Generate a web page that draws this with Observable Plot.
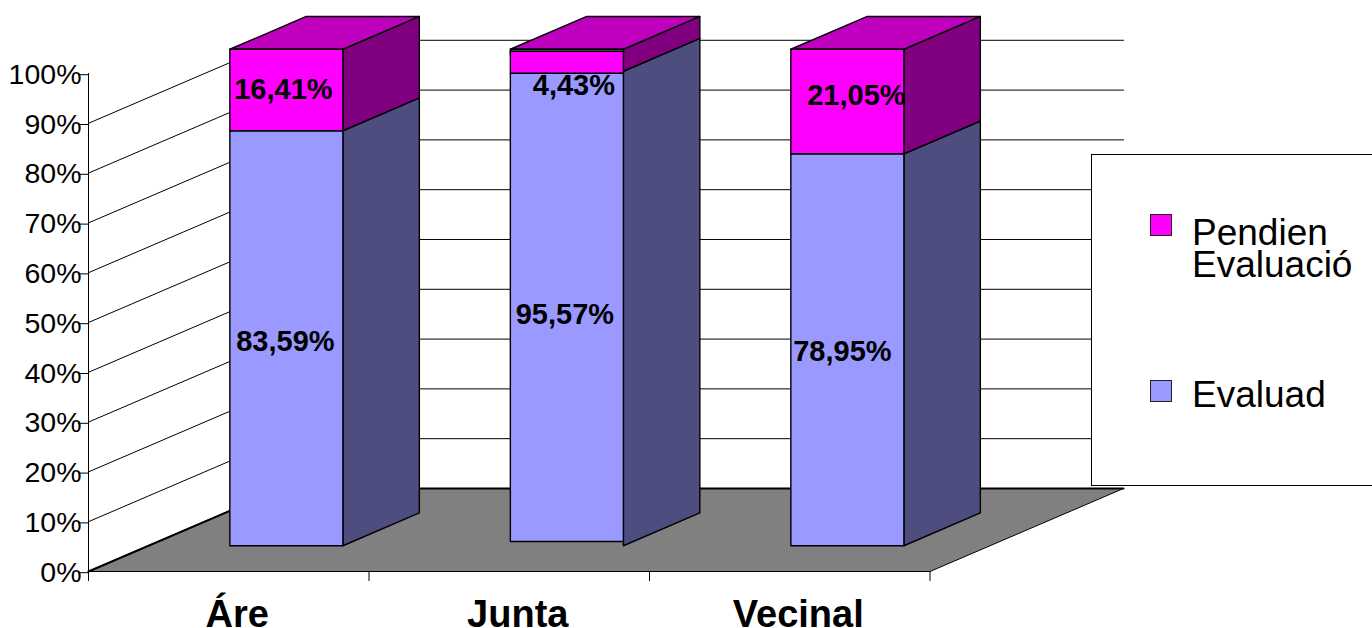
<!DOCTYPE html>
<html>
<head>
<meta charset="utf-8">
<script src="https://cdn.jsdelivr.net/npm/d3@7"></script>
<script src="https://cdn.jsdelivr.net/npm/@observablehq/plot@0.6"></script>
<style>
  html, body { margin: 0; padding: 0; background: #fff; overflow: hidden; }
  #chart { position: relative; width: 1372px; height: 628px; font-family: "Liberation Sans", Arial, sans-serif; }
  #chart svg { display: block; }
  #legend { position: absolute; left: 1091px; top: 154px; width: 290px; height: 332px; background: #fff; border: 1px solid #000; box-sizing: border-box; color: #000; font-size: 37px; }
  #legend .sw { position: absolute; left: 58px; width: 22px; height: 22px; border: 1px solid #222; box-sizing: border-box; }
  #legend .tx { position: absolute; left: 100px; line-height: 32px; white-space: nowrap; }
</style>
</head>
<body>
<div id="chart"></div>
<script>
// ---- data ----
const categories = ["Áre", "Junta", "Vecinal"];
const evaluado = [83.59, 95.57, 78.95];
const pendiente = [16.41, 4.43, 21.05];
const evaluadoLabels = ["83,59%", "95,57%", "78,95%"];
const pendienteLabels = ["16,41%", "4,43%", "21,05%"];
const yTicks = [0, 10, 20, 30, 40, 50, 60, 70, 80, 90, 100];
const gridValues = [10, 20, 30, 40, 50, 60, 70, 80, 90];
const seriesNames = ["Pendien\nEvaluació", "Evaluad"];

// ---- oblique projection, in scale units ----
const depthX = 0.69;     // categories per unit of depth
const depthY = 16.67;    // percent per unit of depth
const project = (c, v, d) => ({x: c + d * depthX, y: v + d * depthY});

const barGap = 0.29, barWidth = 0.403, barD0 = 0.31, barD1 = 0.705, barScale = 0.997;
// the middle column's front face sits slightly off its sides in the original
const frontLift = [0, 0.85, 0];
const frontDrop = [0, 0.4, 0];

const blue = "#9999ff", blueSide = "#4d4d80";
const pink = "#ff00ff", pinkSide = "#800080", pinkTop = "#bf00bf";
const floorGrey = "#808080";

const poly = (pts, fill, extra = {}) =>
  Plot.line(pts, {x: "x", y: "y", fill, stroke: "#000", strokeWidth: 1.4, curve: "linear-closed", ...extra});

const marks = [];

// floor
marks.push(poly([project(0, 0, 0), project(3, 0, 0), project(3, 0, 1), project(0, 0, 1)], floorGrey, {strokeWidth: 1}));
marks.push(Plot.line([project(0, 0, 0), project(0, 0, 1), project(3, 0, 1)], {x: "x", y: "y", stroke: "#000", strokeWidth: 2}));

// back-wall and side-wall lines
for (const v of gridValues) {
  marks.push(Plot.line([project(0, v, 0), project(0, v, 1), project(3, v, 1)], {x: "x", y: "y", stroke: "#000", strokeWidth: 1}));
}

// axes
marks.push(Plot.ruleX([0], {y1: -2, y2: 100, stroke: "#000", strokeWidth: 1}));
marks.push(Plot.ruleY([0], {x1: 0, x2: 3, stroke: "#000", strokeWidth: 1}));
marks.push(Plot.axisY({ticks: yTicks, label: null, tickSize: 10, tickPadding: -3, tickFormat: d => d + "%", fontSize: 28.5, stroke: "#000", color: "#000", dy: 1.2}));
marks.push(Plot.axisX({ticks: [0, 1, 2, 3], label: null, tickSize: 10, tickFormat: () => "", stroke: "#000"}));
marks.push(Plot.axisX({ticks: [0.5, 1.5, 2.5], label: null, tickSize: 0, tickPadding: 29, tickFormat: d => categories[Math.floor(d)],
  fontSize: 38, fontWeight: "bold", color: "#000", dx: 8.5}));

// columns
categories.forEach((name, i) => {
  const L = i + barGap, R = L + barWidth;
  const split = evaluado[i] * barScale, top = (evaluado[i] + pendiente[i]) * barScale;
  // right side faces
  marks.push(poly([project(R, 0, barD0), project(R, 0, barD1), project(R, split, barD1), project(R, split, barD0)], blueSide));
  marks.push(poly([project(R, split, barD0), project(R, split, barD1), project(R, top, barD1), project(R, top, barD0)], pinkSide));
  // top face
  marks.push(poly([project(L, top, barD0), project(R, top, barD0), project(R, top, barD1), project(L, top, barD1)], pinkTop));
  // front faces
  if (frontDrop[i] > 0) {
    marks.push(poly([project(L, top - 1, barD0), project(R, top - 1, barD0), project(R, top, barD0), project(L, top, barD0)], floorGrey));
  }
  marks.push(poly([project(L, frontLift[i], barD0), project(R, frontLift[i], barD0), project(R, split - frontDrop[i], barD0), project(L, split - frontDrop[i], barD0)], blue));
  marks.push(poly([project(L, split - frontDrop[i], barD0), project(R, split - frontDrop[i], barD0), project(R, top - frontDrop[i], barD0), project(L, top - frontDrop[i], barD0)], pink));
});

// value labels: pixel nudges from the centre of each front face
const nudgeEval = [[-1, 3], [-2, 6], [-5, 2]];
const nudgePend = [[-3, 0], [7, 25], [9, -6]];
categories.forEach((name, i) => {
  const cx = i + barGap + barWidth / 2;
  const split = evaluado[i] * barScale, top = (evaluado[i] + pendiente[i]) * barScale;
  const label = (txt, a, b, n) => {
    const p = project(cx, (a + b) / 2, barD0);
    marks.push(Plot.text([txt], {x: () => p.x, y: () => p.y, text: d => d, dx: n[0], dy: n[1],
      fontSize: 29, fontWeight: "bold", fill: "#000", stroke: "none"}));
  };
  label(evaluadoLabels[i], 0, split, nudgeEval[i]);
  label(pendienteLabels[i], split, top, nudgePend[i]);
});

const plot = Plot.plot({
  width: 1372,
  height: 628,
  marginTop: 73,
  marginBottom: 57,
  marginLeft: 88,
  marginRight: 442.5,
  x: {domain: [0, 3], axis: null},
  y: {domain: [0, 100], axis: null},
  style: {background: "#fff", fontFamily: "'Liberation Sans', Arial, sans-serif", overflow: "hidden"},
  marks
});

const chart = document.getElementById("chart");
chart.appendChild(plot);

// legend box sits inside the chart area, on top of the wall lines
const legend = document.createElement("div");
legend.id = "legend";
const colors = [pink, blue];
const swatchTops = [59, 225];
const textTops = [62, 224];
seriesNames.forEach((s, i) => {
  const sw = document.createElement("div");
  sw.className = "sw";
  sw.style.top = swatchTops[i] + "px";
  sw.style.background = colors[i];
  legend.appendChild(sw);
  s.split("\n").forEach((line, j) => {
    const t = document.createElement("div");
    t.className = "tx";
    t.style.top = (textTops[i] + j * 32) + "px";
    t.textContent = line;
    legend.appendChild(t);
  });
});
chart.appendChild(legend);
</script>
</body>
</html>
